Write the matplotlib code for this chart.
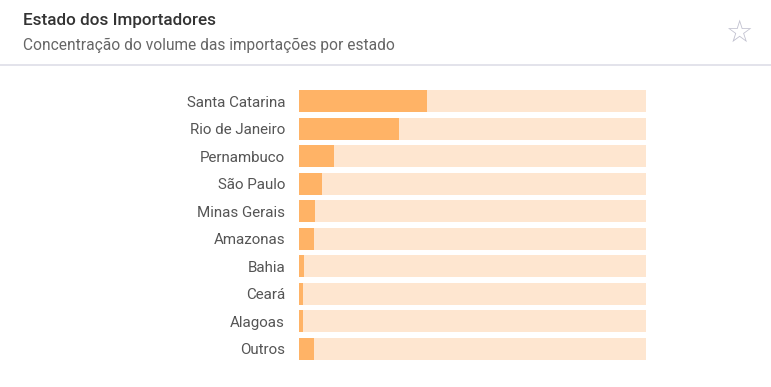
import matplotlib.pyplot as plt
from matplotlib.lines import Line2D

estados = ['Santa Catarina', 'Rio de Janeiro', 'Pernambuco', 'São Paulo', 'Minas Gerais',
           'Amazonas', 'Bahia', 'Ceará', 'Alagoas', 'Outros']
participacao = [36.9, 28.8, 10.1, 6.6, 4.6, 4.3, 1.4, 1.2, 1.2, 4.3]
total = 100

titulo = 'Estado dos Importadores'
subtitulo = 'Concentração do volume das importações por estado'

plt.rcParams['font.family'] = ['Roboto', 'DejaVu Sans']

fig = plt.figure(figsize=(7.71, 3.87), dpi=100)
fig.patch.set_facecolor('white')

# cabeçalho
fig.text(23 / 771, 1 - 20 / 387, titulo, fontsize=12.3, fontweight='medium',
         color='#333333', va='center', ha='left')
fig.text(23 / 771, 1 - 45 / 387, subtitulo, fontsize=11.2,
         color='#666666', va='center', ha='left')
fig.text(739 / 771, 1 - 33 / 387, '☆', fontsize=22, color='#c2c2d0',
         va='center', ha='center', family=['DejaVu Sans'])
fig.add_artist(Line2D([0, 1], [1 - 64.5 / 387] * 2, color='#dedee8', lw=1.2,
                      transform=fig.transFigure))

ax = fig.add_axes([299 / 771, (387 - 362.75) / 387, 347 / 771, 275.2 / 387])
y = range(len(estados))
ax.barh(y, [total] * len(estados), height=0.8, color='#fee6d0')
ax.barh(y, participacao, height=0.8, color='#ffb366')
ax.set_xlim(0, total)
ax.set_ylim(len(estados) - 0.5, -0.5)
ax.set_yticks(list(y))
ax.set_yticklabels(estados, fontsize=10.9, color='#555555')
ax.tick_params(axis='y', length=0, pad=10)
ax.set_xticks([])
for s in ax.spines.values():
    s.set_visible(False)

plt.savefig('out.png', dpi=100)
